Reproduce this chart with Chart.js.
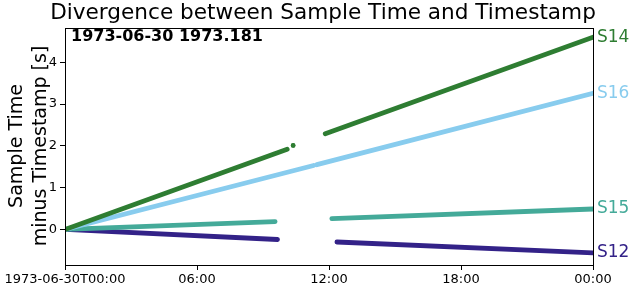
<!DOCTYPE html>
<html>
<head>
<meta charset="utf-8">
<title>Divergence between Sample Time and Timestamp</title>
<script src="https://cdn.jsdelivr.net/npm/chart.js@4/dist/chart.umd.min.js"></script>
<style>
  html, body { margin: 0; padding: 0; background: #fff; }
  #wrap { width: 630px; height: 287px; }
</style>
</head>
<body>
<div id="wrap"><canvas id="chart" width="630" height="287"></canvas></div>
<script>
// hours since 1973-06-30T00:00, null = gap in the record
const s14Time = [0, 10.1, null, 10.37, null, 11.83, 24];
const s14Diff = [0, 1.92, null, 2.01, null, 2.29, 4.60];
const s16Time = [0, 11.3, null, 11.45, 24];
const s16Diff = [0, 1.53, null, 1.55, 3.26];
const s15Time = [0, 9.55, null, 12.13, 24];
const s15Diff = [0, 0.19, null, 0.26, 0.49];
const s12Time = [0, 9.66, null, 12.36, 24];
const s12Diff = [0, -0.24, null, -0.30, -0.56];

const stations = ['S14', 'S16', 'S15', 'S12'];
const colors = ['#2e7d32', '#88ccee', '#44aa99', '#332288'];
const xTicks = [0, 6, 12, 18, 24];
const xTickLabels = ['1973-06-30T00:00', '06:00', '12:00', '18:00', '00:00'];
const yTicks = [0, 1, 2, 3, 4];

const FONT = "'DejaVu Sans', sans-serif";

function toPoints(t, d) {
  return t.map((x, i) => ({ x: x === null ? (t[i - 1] + t[i + 1]) / 2 : x, y: d[i] }));
}

const series = [[s14Time, s14Diff], [s16Time, s16Diff], [s15Time, s15Diff], [s12Time, s12Diff]];

const datasets = series.map((s, i) => ({
  label: stations[i],
  data: toPoints(s[0], s[1]),
  borderColor: colors[i],
  backgroundColor: colors[i],
  borderWidth: 4.8,
  borderCapStyle: 'round',
  pointRadius: ctx => {
    const d = ctx.dataset.data;
    const k = ctx.dataIndex;
    if (d[k].y === null) return 0;
    const prev = d[k - 1], next = d[k + 1];
    return (prev && prev.y !== null) || (next && next.y !== null) ? 0 : 2.2;
  },
  pointBorderWidth: 0,
  spanGaps: false,
  tension: 0
}));

const extras = {
  id: 'extras',
  afterDraw(chart) {
    const { ctx, chartArea: a, scales } = chart;
    ctx.save();
    // frame
    ctx.strokeStyle = '#000';
    ctx.lineWidth = 1;
    ctx.strokeRect(a.left + 0.5, a.top + 0.5, a.right - a.left, a.bottom - a.top);
    // title
    ctx.fillStyle = '#000';
    ctx.font = '21.6px ' + FONT;
    ctx.textAlign = 'center';
    ctx.textBaseline = 'alphabetic';
    ctx.fillText('Divergence between Sample Time and Timestamp', 323, 19);
    // date annotation
    ctx.font = 'bold 16px ' + FONT;
    ctx.textAlign = 'left';
    ctx.textBaseline = 'middle';
    ctx.fillText('1973-06-30 1973.181', a.left + 6, a.top + 9);
    // station labels at the right end of each series
    ctx.font = '17px ' + FONT;
    series.forEach((s, i) => {
      const last = s[1][s[1].length - 1];
      ctx.fillStyle = colors[i];
      ctx.fillText(stations[i], a.right + 4, scales.y.getPixelForValue(last));
    });
    // y axis title
    ctx.fillStyle = '#000';
    ctx.font = '19px ' + FONT;
    ctx.textAlign = 'center';
    ctx.translate(17, 146);
    ctx.rotate(-Math.PI / 2);
    ctx.fillText('Sample Time', 0, 0);
    ctx.fillText('minus Timestamp [s]', 0, 24);
    ctx.restore();
  }
};

new Chart(document.getElementById('chart'), {
  type: 'line',
  data: { datasets: datasets },
  options: {
    responsive: false,
    animation: false,
    layout: { padding: { left: 0, right: 37, top: 28, bottom: 0 } },
    plugins: {
      legend: { display: false },
      tooltip: { enabled: false },
      title: { display: false }
    },
    scales: {
      x: {
        type: 'linear',
        min: 0,
        max: 24,
        afterBuildTicks: s => { s.ticks = xTicks.map(v => ({ value: v })); },
        afterFit: s => { s.height = 22; },
        ticks: {
          color: '#000',
          font: { family: FONT, size: 13 },
          maxRotation: 0,
          autoSkip: false,
          padding: 2,
          callback: v => xTickLabels[xTicks.indexOf(v)]
        },
        grid: { drawOnChartArea: false, drawTicks: true, tickLength: 5, color: '#000' },
        border: { display: true, color: '#000' }
      },
      y: {
        type: 'linear',
        min: -0.85,
        max: 4.82,
        afterBuildTicks: s => { s.ticks = yTicks.map(v => ({ value: v })); },
        afterFit: s => { s.width = 65; },
        ticks: {
          color: '#000',
          font: { family: FONT, size: 13 },
          padding: 3,
          callback: v => String(v)
        },
        grid: { drawOnChartArea: false, drawTicks: true, tickLength: 5, color: '#000' },
        border: { display: true, color: '#000' }
      }
    }
  },
  plugins: [extras]
});
</script>
</body>
</html>
